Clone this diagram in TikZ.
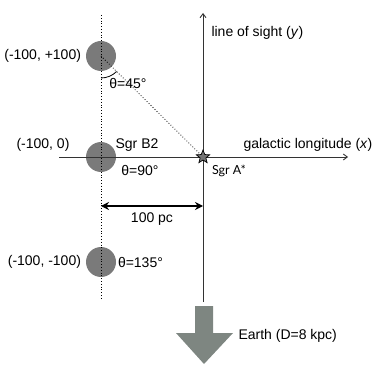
\documentclass[tikz,border=0pt]{standalone}
\usepackage{fontspec}
\setmainfont{Liberation Sans}
\newfontfamily\sgrfont{Lato}
\usetikzlibrary{positioning,arrows.meta,shapes.geometric}
\definecolor{cloudgray}{RGB}{122,122,122}
\definecolor{earthgray}{RGB}{126,134,129}
\newcommand{\thdeg}[1]{θ=#1°}

\begin{document}
\begin{tikzpicture} [x=1pt,y=-1pt,>={Straight Barb[length=4pt,width=6pt]},%
font=\fontsize{14}{16}\selectfont,line width=1pt,inner sep=1pt,
cloud/.style={circle,fill=cloudgray,minimum size=30pt,inner sep=0pt},
axis/.style={->,line width=0.9pt,draw=black!80}]
\useasboundingbox (0,0) rectangle (382,371);
%\draw[help lines,step=20] (0,0) grid (382,371);
\node[cloud] (top) at (101,56)  {};
\node[cloud] (b2)  at (101,157) {};
\node[cloud] (bot) at (101,262) {};
\coordinate (dottop) at (101,15);
\coordinate (dotbot) at (101,298);
\coordinate (xstart) at (59,157);
\coordinate (xend)   at (348,157);
\coordinate (ytop)   at (203,13);
\coordinate (ybot)   at (203,302);
\coordinate (pcleft)  at (101,206);
\coordinate (pcright) at (203,206);
\draw[dotted,line width=0.8pt] (dottop) -- (dotbot);
\draw[axis] (xstart) -- (xend);
\draw[axis] (ybot) -- (ytop);
\node[star,star points=5,star point ratio=2.3,draw,fill=black!55,
      minimum size=14pt,inner sep=0pt,line width=0.7pt] (sgra) at (203,157) {};
\draw[dotted,line width=0.8pt] (top.center) -- (sgra);
\draw[line width=0.8pt] ([yshift=-22pt]top.center) arc[start angle=90,end angle=45,radius=22];
\draw[{Stealth[length=8pt,width=8pt]}-{Stealth[length=8pt,width=8pt]},line width=1.6pt]
     (pcleft) -- (pcright);
\fill[earthgray] (195,306) -- (213,306) -- (213,333) -- (233,333) -- (204,364)
     -- (176,333) -- (195,333) -- cycle;
\node[left=3pt of top]             (toplabel) {(-100, +100)};
\node at (43,145)                  (b2label)  {(-100, 0)};
\node at (137,145)                 (b2name)   {Sgr B2};
\node at (128,84)                  (th45)     {\thdeg{45}};
\node at (140,171)                 (th90)     {\thdeg{90}};
\node[left=3pt of bot]             (botlabel) {(-100, -100)};
\node[right=0pt of bot]            (th135)    {\thdeg{135}};
\node[font=\sgrfont\fontsize{12.5}{14}\selectfont] at (229,171) (sgraname) {Sgr A*};
\node[anchor=west] at (242,145)    (xlabel)   {galactic longitude (\textit{x})};
\node[anchor=west] at (210,33)     (ylabel)   {line of sight (\textit{y})};
\node at (152,219)                 (pclabel)  {100 pc};
\node[anchor=west] at (237,336)    (earth)    {Earth (D=8 kpc)};
\end{tikzpicture}
\end{document}
